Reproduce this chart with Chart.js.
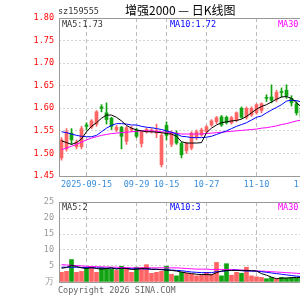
<!DOCTYPE html>
<html>
<head>
<meta charset="utf-8">
<script src="https://cdn.jsdelivr.net/npm/chart.js@4.4.0/dist/chart.umd.min.js"></script>
<style>
  body { margin: 0; width: 300px; height: 300px; overflow: hidden; background: #fff; position: relative; }
  .txt { position: absolute; font: 8.5px 'DejaVu Sans Mono', monospace; line-height: 10px; white-space: nowrap; }
  canvas { position: absolute; left: 0; }
</style>
</head>
<body>
<canvas id="kChart" width="325" height="192" style="top:0"></canvas>
<canvas id="volChart" width="325" height="100" style="top:192px"></canvas>
<div class="txt" style="left:58px;top:6px;color:#333">sz159555</div>
<div style="position:absolute;left:125px;top:1px;font:12px 'Noto Sans CJK SC';color:#000;white-space:nowrap">增强2000 — 日K线图</div>
<div class="txt" style="left:62px;top:19px;color:#333">MA5:1.73</div>
<div class="txt" style="left:170px;top:19px;color:#00f">MA10:1.72</div>
<div class="txt" style="left:278px;top:19px;color:#f0f">MA30:1.60</div>
<div class="txt" style="left:62px;top:202px;color:#333">MA5:2</div>
<div class="txt" style="left:170px;top:202px;color:#00f">MA10:3</div>
<div class="txt" style="left:278px;top:202px;color:#f0f">MA30:3</div>
<div class="txt" style="left:58px;top:285px;color:#666">Copyright 2026 SINA.COM</div>
<script>
const dates = ['09-08','09-09','09-10','09-11','09-12','09-15','09-16','09-17','09-18','09-19',
  '09-22','09-23','09-24','09-25','09-26','09-29','09-30','10-09','10-10','10-13',
  '10-14','10-15','10-16','10-17','10-20','10-21','10-22','10-23','10-24','10-27',
  '10-28','10-29','10-30','10-31','11-03','11-04','11-05','11-06','11-07','11-10',
  '11-11','11-12','11-13','11-14','11-17','11-18','11-19','11-20','11-21','11-24'];
const tickDates = ['09-15', '09-29', '10-15', '10-27', '11-10', '11-24'];
const tickText = ['2025-09-15', '09-29', '10-15', '10-27', '11-10', '11-24'];

const open  = [1.490,1.510,1.545,1.515,1.515,1.563,1.558,1.565,1.603,1.590,
  1.578,1.552,1.558,1.527,1.552,1.552,1.522,1.548,1.548,1.545,
  1.475,1.562,1.520,1.545,1.522,1.506,1.512,1.535,1.541,1.548,
  1.563,1.570,1.581,1.580,1.568,1.574,1.600,1.580,1.585,1.590,
  1.595,1.624,1.625,1.620,1.637,1.640,1.622,1.610,1.600,1.580];
const high  = [1.535,1.555,1.555,1.530,1.560,1.568,1.575,1.595,1.608,1.612,
  1.580,1.562,1.560,1.560,1.560,1.556,1.550,1.556,1.555,1.565,
  1.545,1.570,1.550,1.550,1.525,1.525,1.548,1.552,1.556,1.562,
  1.575,1.582,1.584,1.583,1.582,1.592,1.603,1.603,1.603,1.610,
  1.612,1.630,1.652,1.640,1.645,1.652,1.628,1.615,1.605,1.590];
const low   = [1.485,1.505,1.520,1.510,1.510,1.552,1.555,1.560,1.592,1.565,
  1.553,1.548,1.510,1.520,1.548,1.535,1.514,1.545,1.545,1.535,
  1.470,1.530,1.515,1.520,1.490,1.500,1.508,1.530,1.538,1.545,
  1.560,1.566,1.560,1.565,1.565,1.570,1.578,1.576,1.582,1.587,
  1.590,1.615,1.612,1.615,1.625,1.622,1.605,1.585,1.575,1.575];
const close = [1.530,1.548,1.530,1.525,1.555,1.560,1.572,1.592,1.600,1.575,
  1.560,1.558,1.538,1.557,1.556,1.538,1.548,1.553,1.552,1.550,
  1.540,1.540,1.545,1.523,1.497,1.522,1.545,1.548,1.552,1.559,
  1.572,1.579,1.563,1.568,1.579,1.590,1.580,1.600,1.600,1.608,
  1.610,1.622,1.618,1.635,1.635,1.628,1.612,1.590,1.580,1.585];

const ma5  = [1.528,1.524,1.520,1.524,1.532,1.548,1.560,1.568,1.578,1.585,
  1.585,1.580,1.572,1.562,1.556,1.552,1.550,1.548,1.548,1.547,
  1.546,1.544,1.543,1.538,1.526,1.523,1.523,1.523,1.524,1.546,
  1.556,1.563,1.568,1.570,1.572,1.573,1.576,1.582,1.590,1.598,
  1.604,1.608,1.614,1.620,1.625,1.626,1.622,1.612,1.603,1.598];
const ma10 = [1.548,1.546,1.543,1.540,1.538,1.537,1.537,1.540,1.548,1.556,
  1.562,1.566,1.566,1.565,1.563,1.563,1.560,1.558,1.557,1.555,
  1.553,1.550,1.547,1.543,1.538,1.537,1.535,1.535,1.535,1.536,
  1.538,1.542,1.546,1.550,1.555,1.560,1.564,1.568,1.574,1.580,
  1.583,1.590,1.596,1.602,1.608,1.616,1.618,1.617,1.614,1.610];
const ma30 = [1.508,1.512,1.516,1.520,1.525,1.530,1.534,1.537,1.540,1.542,
  1.544,1.545,1.546,1.547,1.548,1.549,1.550,1.550,1.550,1.549,
  1.548,1.547,1.546,1.545,1.543,1.543,1.543,1.543,1.543,1.544,
  1.545,1.546,1.547,1.548,1.549,1.550,1.551,1.552,1.553,1.554,
  1.556,1.557,1.559,1.561,1.564,1.566,1.569,1.572,1.574,1.576];

// volume in 万
const vol = [3.0,3.3,7.0,3.0,3.3,4.5,4.6,3.0,4.5,4.3,
  4.0,3.6,4.9,4.0,3.0,4.6,4.5,5.4,2.7,3.0,
  3.3,4.9,2.4,1.9,3.0,2.7,2.4,1.9,2.1,3.0,
  2.4,6.1,1.9,5.7,2.1,3.0,2.7,4.6,1.9,1.6,
  1.4,1.0,1.4,1.0,1.4,1.2,1.4,1.2,1.4,1.3];
const vma5  = [4.3,4.5,5.2,4.8,4.4,4.2,4.5,4.2,4.0,4.2,
  4.4,4.0,4.3,4.2,3.9,4.0,4.2,4.3,3.9,4.0,
  3.8,3.7,3.6,3.4,3.1,2.8,2.6,2.4,2.3,2.3,
  2.2,2.9,3.4,3.6,3.6,3.6,3.6,3.6,3.5,3.4,
  2.6,2.1,1.5,1.0,1.2,1.2,1.3,1.4,1.3,1.3];
const vma10 = [4.6,4.6,4.6,4.6,4.5,4.5,4.4,4.4,4.3,4.3,
  4.3,4.2,4.2,4.2,4.1,4.1,4.1,4.0,4.0,3.9,
  3.9,3.8,3.7,3.6,3.5,3.3,3.1,3.0,2.9,2.9,
  2.9,3.2,3.3,3.5,3.6,3.7,3.5,3.4,3.4,3.4,
  3.2,3.0,2.8,2.6,2.4,2.2,2.0,1.8,1.7,1.6];
const vma30 = [5.4,5.3,5.2,5.1,5.0,4.9,4.8,4.8,4.7,4.7,
  4.6,4.6,4.5,4.5,4.4,4.4,4.4,4.4,4.4,4.4,
  4.4,4.4,4.4,4.4,4.3,4.2,4.1,4.0,4.0,4.0,
  3.9,3.9,3.9,3.9,3.9,3.8,3.7,3.6,3.5,3.4,
  3.4,3.3,3.2,3.1,3.0,2.9,2.8,2.7,2.6,2.6];

const RED = '#ff6464';
const GREEN = '#12a312';

Chart.defaults.font.family = "'DejaVu Sans Mono', monospace";
Chart.defaults.font.size = 8.5;
Chart.defaults.animation = false;

const colors = close.map((c, i) => c >= open[i] ? RED : GREEN);
const isTick = i => tickDates.includes(dates[i]);

// gray frame around the plot area
const frame = {
  id: 'frame',
  afterDraw(chart) {
    const a = chart.chartArea;
    const ctx = chart.ctx;
    ctx.save();
    ctx.strokeStyle = '#999';
    ctx.lineWidth = 1;
    ctx.strokeRect(Math.round(a.left) + 0.5, Math.round(a.top) + 0.5,
      Math.round(a.right - a.left), Math.round(a.bottom - a.top));
    ctx.restore();
  }
};

function maLine(data, color) {
  return { type: 'line', data: data, borderColor: color, borderWidth: 1,
    pointRadius: 0, tension: 0, order: 0 };
}

function xScale(showLabels) {
  return {
    offset: true,
    grid: { offset: false, drawTicks: false,
      color: ctx => isTick(ctx.index) ? '#bbb' : 'rgba(0,0,0,0)' },
    border: { display: false, dash: [4, 3] },
    ticks: {
      display: showLabels, autoSkip: false, maxRotation: 0, minRotation: 0,
      padding: 4, color: '#3a8fdc',
      callback: (v, i) => {
        const k = tickDates.indexOf(dates[i]);
        return k >= 0 ? tickText[k] : '';
      }
    },
    afterFit: s => { s.height = showLabels ? 16 : 9; }
  };
}

new Chart(document.getElementById('kChart'), {
  type: 'bar',
  data: {
    labels: dates,
    datasets: [
      maLine(ma5, '#000'),
      maLine(ma10, '#00f'),
      maLine(ma30, '#f0f'),
      { data: open.map((o, i) => [o, close[i]]), backgroundColor: colors,
        barThickness: 3, minBarLength: 1, grouped: false, order: 1 },
      { data: low.map((l, i) => [l, high[i]]), backgroundColor: colors,
        barThickness: 1, grouped: false, order: 2 }
    ]
  },
  options: {
    responsive: false,
    layout: { padding: { top: 18, right: 16, left: 0, bottom: 0 } },
    plugins: { legend: { display: false }, tooltip: { enabled: false } },
    scales: {
      x: xScale(true),
      y: {
        min: 1.45, max: 1.80,
        grid: { color: '#d4d4d4', drawTicks: false },
        border: { display: false, dash: [2, 2] },
        ticks: { stepSize: 0.05, padding: 5, color: '#f00',
          callback: v => v.toFixed(2) },
        afterFit: s => { s.width = 59; }
      }
    }
  },
  plugins: [frame]
});

new Chart(document.getElementById('volChart'), {
  type: 'bar',
  data: {
    labels: dates,
    datasets: [
      maLine(vma5, '#000'),
      maLine(vma10, '#00f'),
      maLine(vma30, '#f0f'),
      { data: vol, backgroundColor: colors, barThickness: 4, order: 1 }
    ]
  },
  options: {
    responsive: false,
    layout: { padding: { top: 9, right: 16, left: 0, bottom: 0 } },
    plugins: { legend: { display: false }, tooltip: { enabled: false } },
    scales: {
      x: xScale(false),
      y: {
        min: 0, max: 25,
        grid: { color: '#d4d4d4', drawTicks: false },
        border: { display: false, dash: [2, 2] },
        ticks: { stepSize: 5, padding: 5, color: '#999',
          callback: v => v === 0 ? '万' : v },
        afterFit: s => { s.width = 59; }
      }
    }
  },
  plugins: [frame]
});
</script>
</body>
</html>
